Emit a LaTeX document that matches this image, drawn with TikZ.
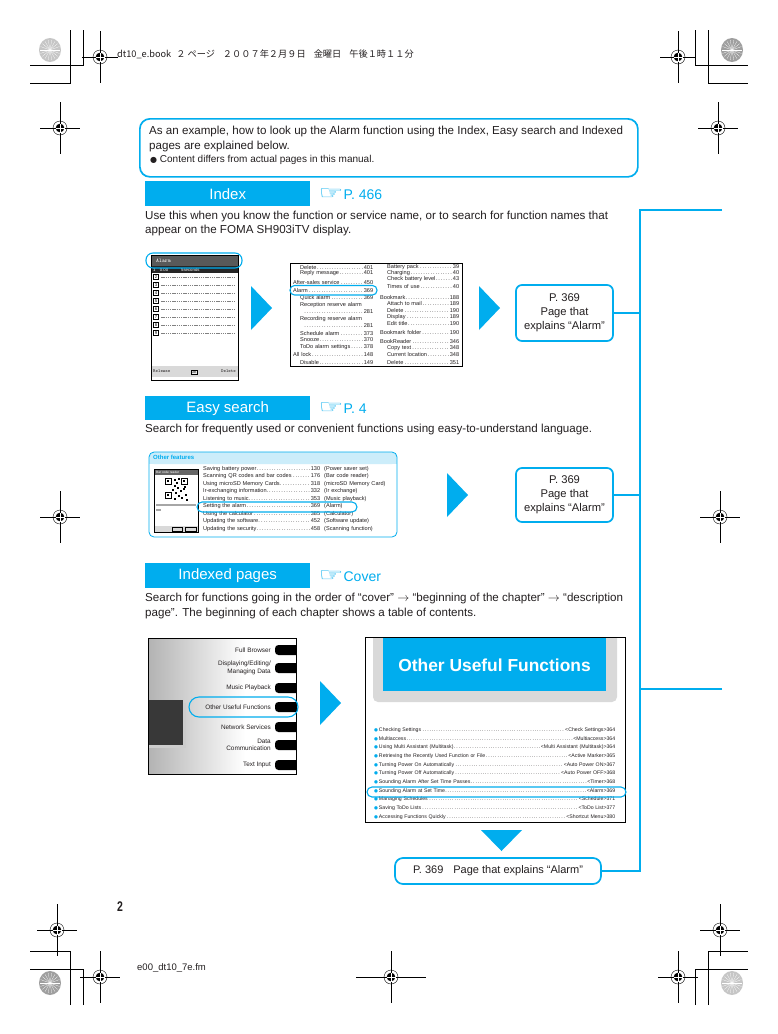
\documentclass[tikz,border=0pt]{standalone}
\usepackage{fontspec}
\usepackage{graphicx}
\setmainfont{Liberation Sans}
\newfontfamily\jpfont{Noto Sans CJK JP}
\newfontfamily\symfont{DejaVu Sans}
\usetikzlibrary{positioning}
\definecolor{cy}{HTML}{00ADEE}
\definecolor{ink}{HTML}{231F20}
\definecolor{band}{HTML}{CCEDFA}
\newcommand{\fsz}[2]{\fontsize{#1}{#2}\selectfont}
\newcommand{\hand}{{\symfont\fsz{18}{18}\scalebox{1.55}[1.05]{☞}}}
\tikzset{
  busline/.style={cy, line width=2.2pt},
  callout/.style={draw=cy, line width=1.7pt, rounded corners=6pt, align=center, inner sep=0pt, text=ink, font=\fsz{11.2}{14}},
  secbar/.style={fill=cy, text=white, inner sep=0pt, minimum width=165pt, minimum height=25pt, font=\fsz{15}{16}},
  seeref/.style={text=cy, anchor=west, inner sep=0pt, font=\fsz{14}{16}},
  body/.style={anchor=west, inner sep=0pt, text=ink, font=\fsz{11.6}{15}},
  idx/.style={anchor=west, inner sep=0pt, text=ink, font=\fsz{5.6}{6.5}},
  hilite/.style={draw=cy, line width=1.1pt, rounded corners=5pt},
  shot/.style={draw=black, line width=0.7pt, fill=white, inner sep=0pt},
  tip/.style={fill=cy},
  trim/.style={line width=0.5pt}
}
\begin{document}
\begin{tikzpicture}[x=1pt,y=-1pt]
\fill[white] (0,0) rectangle (778,1034);
\useasboundingbox (0,0) rectangle (778,1034);

% crop marks
\draw[trim] (83,30) -- (83,65) -- (30,65) (70,30) -- (70,83) -- (30,83);
\draw[trim] (695,30) -- (695,65) -- (748,65) (708,30) -- (708,83) -- (748,83);
\draw[trim] (83,1005) -- (83,969) -- (30,969) (70,1005) -- (70,951) -- (30,951);
\draw[trim] (695,1005) -- (695,969) -- (748,969) (708,1005) -- (708,951) -- (748,951);
\foreach \cx/\cy/\g in {50/50/45,732/50/75,50/983/75,732/983/45} {
  \fill[gray!\g] (\cx,\cy) ellipse [x radius=11, y radius=12];
  \foreach \a in {0,20,...,160}
    \draw[white, line width=0.25pt] (\cx,\cy) ++(\a:10) -- ++(\a+180:20);
}
\foreach \px/\py/\h in {100/57/18,60/128/20,678/57/18,718/128/20,60/517/20,720/517/20,
                       57/930/20,100/977/20,391/977/35,678/977/20,720/930/20} {
  \draw[trim] (\px,\py) ++(-\h,0) -- ++(2*\h,0);
  \draw[trim] (\px,\py) ++(0,-26) -- ++(0,52);
  \draw[line width=0.4pt] (\px,\py) circle (7);
  \fill (\px,\py) circle (4.3);
  \draw[white, line width=0.7pt] (\px,\py) ++(-4.5,0) -- ++(9,0) (\px,\py) ++(0,-4.5) -- ++(0,9);
}
\node[anchor=west, inner sep=0pt, text=ink, font=\jpfont\fsz{9.2}{10}] (slug) at (117,54)
  {dt10\_e.book\hspace{5pt}２ ページ\hspace{8pt}２００７年２月９日\hspace{8pt}金曜日\hspace{8pt}午後１時１１分};

% intro
\node[draw=cy, line width=1.7pt, rounded corners=10pt, minimum width=498pt, minimum height=58pt,
      anchor=north west, inner sep=0pt] (intro) at (139,118) {};
\node[body] (introA) at (149,131) {As an example, how to look up the Alarm function using the Index, Easy search and Indexed};
\node[body] (introB) at (149,146) {pages are explained below.};
\node[body, font=\fsz{10}{11}] (introC) at (150,160) {{\symfont\fsz{8}{9}●}\ Content differs from actual pages in this manual.};

% Index
\node[secbar, anchor=north west] (idxbar) at (145,181) {Index};
\node[seeref, right=8pt of idxbar] (idxref) {\hand P. 466};
\node[body] (idxtxtA) at (145,216) {Use this when you know the function or service name, or to search for function names that};
\node[body] (idxtxtB) at (145,230) {appear on the FOMA SH903iTV display.};

% phone screen
\node[shot, anchor=north west, minimum width=87pt, minimum height=125pt] (phone) at (151,255) {};
\fill[black!65] (151.5,255.5) rectangle (237.5,266);
\node[idx, text=white, font=\ttfamily\fsz{5.5}{6}] (phtitle) at (156,260.7) {Alarm};
\fill[black!85] (151.5,266) rectangle (237.5,273);
\node[idx, text=white, font=\fsz{4.3}{5}] (phrow) at (153,269.5) {1\quad 0:00\qquad\quad 5seconds};
\foreach \n in {2,...,9} {
  \node[draw, inner sep=0.3pt, minimum size=5pt, font=\fsz{4.2}{5}] (row\n) at (156,{277+8*(\n-2)}) {\n};
  \draw[gray, dash pattern=on 1.3pt off 0.9pt] (row\n.east) ++(2.5,0) -- (234,{277+8*(\n-2)});
}
\fill[gray!30] (151.5,366) rectangle (237.5,377);
\node[idx, font=\ttfamily\fsz{4.6}{5}] (relkey) at (153,371.5) {Release};
\node[draw, fill=gray!15, inner sep=0.8pt, font=\ttfamily\fsz{4.6}{5}] (okkey) at (194,372) {OK};
\node[idx, anchor=east, font=\ttfamily\fsz{4.6}{5}] (delkey) at (236,371.5) {Delete};
\draw[hilite, rounded corners=7pt] (146,253) rectangle (242,268);

\fill[tip] (251,286) -- (272,308) -- (251,330) -- cycle;

% index excerpt
\node[shot, anchor=north west, minimum width=172pt, minimum height=103pt] (ixbox) at (290,263) {};
\foreach \y/\i/\t in {267/7/{Delete\dotfill 401}, 273/7/{Reply message\dotfill 401},
    282/0/{After-sales service\dotfill 450}, 290/0/{Alarm\dotfill 369},
    298/7/{Quick alarm\dotfill 369}, 305/7/{Reception reserve alarm}, 312/10/{\dotfill 281},
    319/7/{Recording reserve alarm}, 326/10/{\dotfill 281}, 333/7/{Schedule alarm\dotfill 373},
    340/7/{Snooze\dotfill 370}, 347/7/{ToDo alarm settings\dotfill 378},
    354/0/{All lock\dotfill 148}, 362/7/{Disable\dotfill 149}}
  \node[idx, text width=80pt] (ixa\y) at (293,\y) {\hspace*{\i pt}\t};
\foreach \y/\i/\t in {267/7/{Battery pack\dotfill 39}, 273/7/{Charging\dotfill 40},
    279/7/{Check battery level\dotfill 43}, 286/7/{Times of use\dotfill 40},
    297/0/{Bookmark\dotfill 188}, 303/7/{Attach to mail\dotfill 189}, 310/7/{Delete\dotfill 190},
    317/7/{Display\dotfill 189}, 323/7/{Edit title\dotfill 190}, 332/0/{Bookmark folder\dotfill 190},
    341/0/{BookReader\dotfill 346}, 348/7/{Copy text\dotfill 348},
    354/7/{Current location\dotfill 348}, 362/7/{Delete\dotfill 351}}
  \node[idx, text width=79pt] (ixb\y) at (380,\y) {\hspace*{\i pt}\t};
\draw[hilite, rounded corners=4.5pt] (290,285.5) rectangle (377,295);

\fill[tip] (479,286) -- (500,308) -- (479,330) -- cycle;
\node[callout, minimum width=97pt, minimum height=56pt] (callA) at (564.5,313) {P. 369\\Page that\\explains “Alarm”};

% Easy search
\node[secbar, anchor=north west, minimum height=24pt] (easybar) at (145,396) {Easy search};
\node[seeref, right=8pt of easybar] (easyref) {\hand P. 4};
\node[body] (easytxt) at (145,429) {Search for frequently used or convenient functions using easy-to-understand language.};

\fill[band, rounded corners=5pt] (149,452) rectangle (397,464);
\fill[band] (149,458) rectangle (397,464);
\draw[cy, line width=0.8pt, rounded corners=5pt] (149,452) rectangle (397,537);
\node[idx, text=cy, font=\bfseries\fsz{6}{7}] (ofhead) at (153,457.5) {Other features};
\node[shot, anchor=north west, minimum width=44pt, minimum height=63pt] (phone2) at (154,469) {};
\fill[black!60] (154.5,469.5) rectangle (197.5,474.5);
\node[idx, text=white, font=\fsz{3.2}{4}] (qrtitle) at (156,472) {Bar code reader};
\foreach \fx/\fy in {165/478,181/478,165/492} {
  \draw[line width=0.9pt] (\fx,\fy) rectangle ++(6,6);
  \fill (\fx+2,\fy+2) rectangle ++(2,2);
}
\foreach \mx/\my in {174/479,176/482,178/478,174/485,177/487,180/490,183/488,185/494,
                     175/492,178/495,181/497,174/498,186/499,184/486,172/489} 
  \fill (\mx,\my) rectangle ++(1.7,1.7);
\draw[gray!70, line width=1.1pt] (156,505) -- (196,505) (156,510) -- (161,510);
\fill[gray!30] (154.5,526) rectangle (197.5,531.5);
\draw[line width=0.3pt] (172,527) rectangle (182,531) (185,527) rectangle (196,531);
\foreach \t/\p [count=\k] in {{Saving battery power\dotfill 130}/{Power saver set},
    {Scanning QR codes and bar codes\dotfill 176}/{Bar code reader},
    {Using microSD Memory Cards.\dotfill 318}/{microSD Memory Card},
    {Ir-exchanging information.\dotfill 332}/{Ir exchange},
    {Listening to music.\dotfill 353}/{Music playback},
    {Setting the alarm\dotfill 369}/{Alarm},
    {Using the calculator\dotfill 385}/{Calculator},
    {Updating the software.\dotfill 452}/{Software update},
    {Updating the security\dotfill 458}/{Scanning function}}
  \node[idx, text width=117pt] (of\k) at (203,{461.5+7.5*\k}) {\t\rlap{\hspace{4pt}(\p)}};
\draw[hilite, rounded corners=5pt] (197,502) rectangle (357,512);

\fill[tip] (447,473) -- (468,495) -- (447,517) -- cycle;
\node[callout, minimum width=97pt, minimum height=54pt] (callB) at (564.5,495) {P. 369\\Page that\\explains “Alarm”};

% Indexed pages
\node[secbar, anchor=north west] (pagebar) at (145,563) {Indexed pages};
\node[seeref, right=8pt of pagebar] (pageref) {\hand Cover};
\node[body] (pagetxtA) at (145,598) {Search for functions going in the order of “cover” $\rightarrow$ “beginning of the chapter” $\rightarrow$ “description};
\node[body] (pagetxtB) at (145,613) {page”. The beginning of each chapter shows a table of contents.};

% cover
\shade[left color=gray!60, right color=white] (148,638) rectangle (245,774);
\fill[black!20] (148,703) rectangle (186,748);
\fill[black!78] (148,700) rectangle (183,745);
\begin{scope}
  \clip (148,638) rectangle (296,774);
  \foreach \y/\t [count=\k] in {650/{Full Browser}, 668/{Displaying/Editing/\\Managing Data},
      688/{Music Playback}, 707/{Other Useful Functions}, 727/{Network Services},
      745/{Data\\Communication}, 765/{Text Input}} {
    \node[anchor=east, align=right, inner sep=0pt, text=ink, font=\fsz{6.4}{7.6}] (cv\k) at (271,\y) {\t};
    \fill[black, rounded corners=3.5pt] (275,\y-5) rectangle (302,\y+5);
  }
\end{scope}
\draw[line width=0.7pt] (148,638) rectangle (296,774);
\draw[hilite, rounded corners=10pt] (189,697) rectangle (298,717);

\fill[tip] (320,681) -- (341,703) -- (320,725) -- cycle;

% chapter page
\fill[gray!30, rounded corners=5pt] (373,637) -- (373,702) -- (617,702) -- (617,637);
\fill[cy] (383,637) rectangle (606,691);
\node[text=white, font=\bfseries\fsz{17.4}{18}] (chtitle) at (494.5,665) {Other Useful Functions};
\foreach \t/\p [count=\k] in {{Checking Settings}/{<Check Settings>364}, {Multiaccess}/{<Multiaccess>364},
    {Using Multi Assistant (Multitask)}/{<Multi Assistant (Multitask)>364},
    {Retrieving the Recently Used Function or File}/{<Active Marker>365},
    {Turning Power On Automatically}/{<Auto Power ON>367},
    {Turning Power Off Automatically}/{<Auto Power OFF>368},
    {Sounding Alarm After Set Time Passes}/{<Timer>368},
    {Sounding Alarm at Set Time}/{<Alarm>369}, {Managing Schedules}/{<Schedule>371},
    {Saving ToDo Lists}/{<ToDo List>377}, {Accessing Functions Quickly}/{<Shortcut Menu>380}}
  \node[idx, text width=241pt, font=\fsz{5.2}{6}] (ch\k) at (374,{721.3+8.7*\k})
    {\textcolor{cy}{\symfont\fsz{4.5}{5}●}\,\t\dotfill\p};
\draw[line width=0.7pt] (365,637) rectangle (625,822);
\draw[hilite, rounded corners=5pt] (367,787) rectangle (626,797);

\fill[tip] (481,830) -- (522,830) -- (501.5,851) -- cycle;
\node[callout, minimum width=206pt, minimum height=26pt, rounded corners=8pt, font=\fsz{11}{12}] (result) at (498,871)
  {P. 369\hspace{10pt}Page that explains “Alarm”};

% bus to the tabs
\coordinate (busTop) at (722,210);
\coordinate (busMid) at (722,689);
\coordinate (bus) at (640,210);
\draw[busline] (busTop) -- (bus) |- (result.east);
\draw[busline] (busMid) -- (busMid -| bus);
\draw[busline] (callA.east) -- (callA.east -| bus);
\draw[busline] (callB.east) -- (callB.east -| bus);

% folio
\node[inner sep=0pt, text=ink, font=\bfseries\fsz{14}{14}] (folio) at (120,907) {\scalebox{0.75}[1]{2}};
\node[anchor=west, inner sep=0pt, text=ink, font=\fsz{9.5}{10}] (fmname) at (137,968) {e00\_dt10\_7e.fm};
\end{tikzpicture}
\end{document}
